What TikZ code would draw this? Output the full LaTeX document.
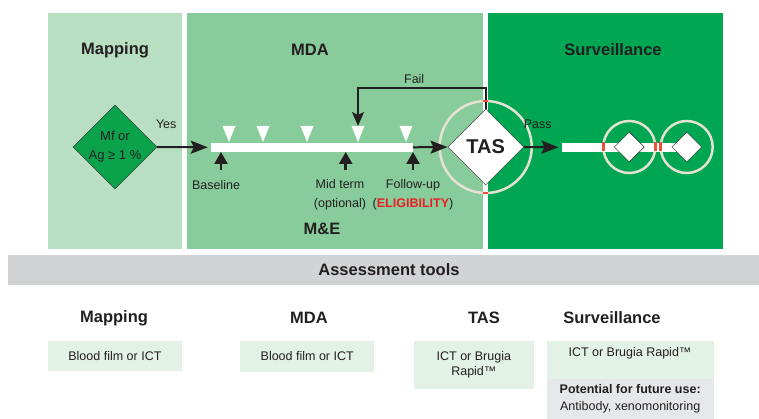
\documentclass[tikz,border=0pt]{standalone}
\usepackage{fontspec}
\setmainfont{Liberation Sans}
\usetikzlibrary{shapes.geometric, positioning, arrows.meta, calc}

\definecolor{ink}{HTML}{231F20}
\definecolor{mapgreen}{HTML}{B9DFC3}
\definecolor{mdagreen}{HTML}{88CC9B}
\definecolor{survgreen}{HTML}{00A651}
\definecolor{mfgreen}{HTML}{0BA24C}
\definecolor{ringgray}{HTML}{E5E2D3}
\definecolor{markred}{HTML}{F04E37}
\definecolor{eligred}{HTML}{ED1C24}
\definecolor{toolgray}{HTML}{D1D3D4}
\definecolor{palegreen}{HTML}{E3F2E6}
\definecolor{futuregray}{HTML}{E6E7E8}

\begin{document}
\begin{tikzpicture}[x=1pt, y=-1pt,
    panel/.style={rectangle, anchor=north west, inner sep=0, outer sep=0, minimum height=235.5pt},
    title/.style={font=\bfseries\fontsize{16.5}{18}\selectfont, text=ink},
    lbl/.style={font=\fontsize{12.5}{19}\selectfont, text=ink, align=center},
    decision/.style={diamond, draw=ink, thin, aspect=1, inner sep=0, align=center},
    ring/.style={circle, draw=ringgray, line width=2.5pt, inner sep=0, outer sep=0},
    track/.style={rectangle, fill=white, inner sep=0, minimum height=9pt},
    flow/.style={draw=ink, line width=2pt, -{Stealth[length=17pt, width=13pt, inset=3pt]}},
    tick/.style={draw=ink, line width=2.5pt, -{Triangle[length=12pt, width=13pt]}},
    redmark/.style={draw=markred, line width=2.5pt},
    toolbox/.style={rectangle, anchor=north west, fill=palegreen, inner sep=0,
        font=\fontsize{12.5}{15}\selectfont, text=ink, align=center}]

    \useasboundingbox (0,0) rectangle (759,419);

    % Phase panels
    \node[panel, fill=mapgreen, minimum width=134.5pt] (mapPanel) at (47.5,13.5) {};
    \node[panel, fill=mdagreen, minimum width=296pt] (mdaPanel) at (187,13.5) {};
    \node[panel, fill=survgreen, minimum width=234.7pt] (survPanel) at (488,13.5) {};

    \node[title] (mapTitle) at (115,50) {Mapping};
    \node[title] (mdaTitle) at (310,50) {MDA};
    \node[title] (survTitle) at (613,50) {Surveillance};
    \node[title] (me) at (322,229) {M\&E};

    % Rings behind the survey diamonds
    \node[ring, minimum size=92pt] (tasRing) at (485.7,147) {};
    \node[ring, minimum size=52pt] (sRing1) at (629.3,147) {};
    \node[ring, minimum size=52pt] (sRing2) at (686.7,147) {};

    % MDA rounds and surveillance track
    \node[track, minimum width=201.7pt] (bar) at (311.85,147.3) {};
    \node[track, minimum width=124.3pt] (sbar) at (623.85,147.3) {};

    \foreach \x/\n in {229/1, 263/2, 307/3, 358/4, 406/5} {
        \fill[white] (\x-6.5,126) -- (\x+6.5,126) -- (\x,142) -- cycle;
        \coordinate (w\n) at (\x,126);
    }

    % Decisions
    \node[decision, fill=mfgreen, minimum size=77pt, font=\fontsize{13}{19}\selectfont, text=ink]
        (mf) at (115,147) {Mf or\\Ag ≥ 1 \%};
    \node[decision, fill=white, minimum size=76pt, font=\bfseries\fontsize{20}{22}\selectfont, text=ink]
        (tas) at (485.7,147) {TAS};
    \node[decision, fill=white, minimum size=30pt] (sd1) at (629.3,147) {};
    \node[decision, fill=white, minimum size=30pt] (sd2) at (686.7,147) {};

    % Flow between phases
    \draw[flow] (mf.east) -- node[lbl, pos=0.18, above=14pt] (yes) {Yes} ([xshift=-3pt]bar.west);
    \draw[flow] (bar.east) -- (tas.west);
    \draw[flow] (tas.east) -- node[lbl, pos=0.4, above=14pt] (pass) {Pass} ([xshift=-3pt]sbar.west);
    \draw[flow, -{Stealth[length=14pt, width=12pt, inset=3pt]}] (tas.north) -- ++(0,-21)
        -| node[lbl, pos=0.28, above] (fail) {Fail} (w4);

    % Survey points on the MDA track
    \node[lbl] (baseline) at (216,185) {Baseline};
    \node[lbl] (midterm) at (340,194.5) {Mid term\\(optional)};
    \node[lbl] (followup) at (413,194.5) {Follow-up\\(\textcolor{eligred}{\textbf{ELIGIBILITY}})};

    \coordinate (t1) at (221,170);
    \coordinate (t2) at (345.7,170);
    \coordinate (t3) at (413,170);
    \draw[tick] (t1) -- (t1 |- bar.south);
    \draw[tick] (t2) -- (t2 |- bar.south);
    \draw[tick] (t3) -- (t3 |- bar.south);

    % Red marks where lines cross the rings
    \draw[redmark] ([xshift=-2.5pt]tasRing.north) -- ([xshift=2.5pt]tasRing.north);
    \draw[redmark] ([xshift=-2.5pt]tasRing.south) -- ([xshift=2.5pt]tasRing.south);
    \draw[redmark] ([yshift=-4.5pt]sRing1.west) -- ([yshift=4.5pt]sRing1.west);
    \draw[redmark] ([yshift=-4.5pt]sRing1.east) -- ([yshift=4.5pt]sRing1.east);
    \draw[redmark] ([yshift=-4.5pt]sRing2.west) -- ([yshift=4.5pt]sRing2.west);

    % Assessment tools
    \node[panel, fill=toolgray, minimum width=751pt, minimum height=30pt] (toolsBar) at (8,255) {};
    \node[title] (toolsTitle) at (389,270) {Assessment tools};

    \node[title] (mapHead) at (114,318) {Mapping};
    \node[title] (mdaHead) at (309,318) {MDA};
    \node[title] (tasHead) at (484,318) {TAS};
    \node[title] (survHead) at (612,318) {Surveillance};

    \node[toolbox, minimum width=134pt, minimum height=30pt] (mapTool) at (47.7,341) {Blood film or ICT};
    \node[toolbox, minimum width=134pt, minimum height=30.5pt] (mdaTool) at (240,341) {Blood film or ICT};
    \node[toolbox, minimum width=120.7pt, minimum height=47.3pt] (tasTool) at (413.3,341) {ICT or Brugia\\Rapid™};
    \node[toolbox, minimum width=166.6pt, minimum height=38pt] (survTool) at (546.7,341) {};
    \node[lbl] (survText) at (630,353) {ICT or Brugia Rapid™};
    \node[toolbox, fill=futuregray, minimum width=166.6pt, minimum height=40pt, font=\fontsize{12.5}{17}\selectfont]
        (futureTool) at (546.7,379) {\textbf{Potential for future use:}\\Antibody, xenomonitoring};

\end{tikzpicture}
\end{document}
